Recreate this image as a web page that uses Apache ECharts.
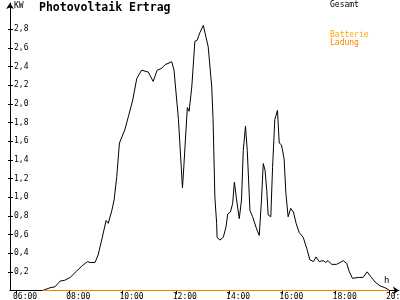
<!DOCTYPE html>
<html>
<head>
<meta charset="utf-8">
<script src="https://cdn.jsdelivr.net/npm/echarts@6/dist/echarts.min.js"></script>
<style>html,body{margin:0;padding:0;background:#fff}#c{width:400px;height:300px}</style>
</head>
<body>
<div id="c"></div>
<script>
var pvTimes = ["07:00","07:17","07:28","07:39","07:50","08:02","08:17","08:28","08:41","08:47",
  "08:58","09:05","09:13","09:23","09:28","09:36","09:41","09:47","09:53","10:05",
  "10:13","10:23","10:32","10:43","10:58","11:09","11:18","11:28","11:36","11:51",
  "11:56","12:06","12:15","12:18","12:26","12:30","12:36","12:43","12:48","12:54",
  "13:02","13:06","13:13","13:21","13:24","13:28","13:32","13:33","13:39","13:47",
  "13:53","13:57","14:03","14:08","14:12","14:17","14:23","14:28","14:32","14:37",
  "14:41","14:47","14:53","15:02","15:08","15:13","15:17","15:21","15:25","15:28",
  "15:34","15:38","15:43","15:49","15:53","15:58","16:04","16:08","16:13","16:19",
  "16:25","16:31","16:38","16:47","16:55","17:02","17:10","17:16","17:23","17:32",
  "17:38","17:43","17:51","18:02","18:10","18:17","18:25","18:31","18:38","18:51",
  "19:02","19:11","19:19","19:29","19:40","19:51","19:59","20:00"];
var pvValues = [0.00,0.03,0.04,0.10,0.11,0.14,0.21,0.26,0.31,0.30,
  0.30,0.38,0.54,0.75,0.72,0.86,0.97,1.22,1.58,1.72,
  1.86,2.04,2.27,2.36,2.34,2.24,2.36,2.38,2.42,2.45,
  2.36,1.83,1.10,1.32,1.96,1.92,2.18,2.67,2.68,2.76,
  2.84,2.82,2.61,2.18,1.83,1.00,0.72,0.57,0.54,0.57,
  0.68,0.82,0.84,0.93,1.16,0.97,0.77,0.97,1.50,1.76,
  1.50,0.86,0.79,0.66,0.59,0.97,1.36,1.29,1.07,0.81,
  0.79,1.32,1.83,1.93,1.58,1.56,1.41,1.04,0.79,0.88,
  0.84,0.72,0.62,0.57,0.45,0.33,0.31,0.36,0.31,0.32,
  0.30,0.32,0.28,0.28,0.30,0.32,0.29,0.20,0.13,0.14,
  0.14,0.20,0.15,0.09,0.05,0.03,0.01,0.00];
var chargeTimes = ["07:00","20:00"];
var chargeValues = [0, 0];
var xTickHours = [6, 8, 10, 12, 14, 16, 18, 20];
var yTickValues = [0.2, 0.4, 0.6, 0.8, 1.0, 1.2, 1.4, 1.6, 1.8, 2.0, 2.2, 2.4, 2.6, 2.8];
var titleText = "Photovoltaik Ertrag";
var legendNames = ["Gesamt", "Batterie", "Ladung"];

function toH(s){ var p = s.split(":"); return +p[0] + (+p[1]) / 60; }
function pairs(t, v){ return t.map(function(s, i){ return [toH(s), v[i]]; }); }
function hh(v){ var h = Math.round(v); return (h < 10 ? "0" : "") + h + ":00"; }

var FONT = "DejaVu Sans Mono";
var chart = echarts.init(document.getElementById("c"), null, {renderer: "canvas"});
var xMin = 5.775, xMax = 20.38;
chart.setOption({
  animation: false,
  backgroundColor: "#ffffff",
  title: {text: titleText, left: 39, top: 2, padding: 0,
    textStyle: {fontFamily: FONT, fontSize: 11.5, fontWeight: "bold", color: "#000"}},
  grid: {left: 10, right: 1, top: 3, bottom: 9.5, containLabel: false, outerBoundsMode: "none"},
  xAxis: [{
    type: "value", min: xMin, max: xMax,
    axisLine: {show: true, lineStyle: {color: "#000", width: 1}, symbol: ["none", "arrow"], symbolSize: [6, 6]},
    axisTick: {show: true, length: 4, lineStyle: {color: "#000"}, customValues: xTickHours},
    axisLabel: {show: true, customValues: xTickHours, formatter: hh, align: "left",
      alignMinLabel: "left", alignMaxLabel: "left", padding: [0, 0, 0, -3],
      margin: 2, fontFamily: FONT, fontSize: 8, color: "#000", verticalAlign: "top"},
    splitLine: {show: false}
  }],
  yAxis: [{
    type: "value", min: 0, max: 3.08,
    axisLine: {show: true, lineStyle: {color: "#000", width: 1}, symbol: ["none", "arrow"], symbolSize: [6, 6]},
    axisTick: {show: true, length: 2, lineStyle: {color: "#000"}, customValues: yTickValues},
    axisLabel: {show: true, inside: true, margin: 4, customValues: yTickValues,
      formatter: function(v){ return v.toFixed(1).replace(".", ","); },
      fontFamily: FONT, fontSize: 8, color: "#000"},
    splitLine: {show: false}
  }, {
    type: "value", min: 0, max: 3.08, position: "left",
    axisLine: {show: false},
    axisTick: {show: true, inside: true, length: 3, lineStyle: {color: "#000"}, customValues: yTickValues},
    axisLabel: {show: false},
    splitLine: {show: false}
  }],
  series: [{
    name: legendNames[0], type: "line", data: pairs(pvTimes, pvValues), clip: false,
    showSymbol: false, symbol: "none", lineStyle: {color: "#000", width: 1}, z: 3
  }, {
    name: legendNames[2], type: "line", data: pairs(chargeTimes, chargeValues), clip: false,
    showSymbol: false, symbol: "none", lineStyle: {color: "#ff8000", width: 1}, z: 4
  }],
  graphic: [
    {type: "text", left: 14, top: 2, style: {text: "KW", font: "8px " + FONT, fill: "#000"}},
    {type: "text", left: 384, top: 276, style: {text: "h", font: "9px " + FONT, fill: "#000"}},
    {type: "text", left: 330, top: 1, style: {text: legendNames[0], font: "8px " + FONT, fill: "#000"}},
    {type: "text", left: 330, top: 31, style: {text: legendNames[1], font: "8px " + FONT, fill: "#ffa800"}},
    {type: "text", left: 330, top: 39, style: {text: legendNames[2], font: "8px " + FONT, fill: "#ff8000"}}
  ]
});
</script>
</body>
</html>
